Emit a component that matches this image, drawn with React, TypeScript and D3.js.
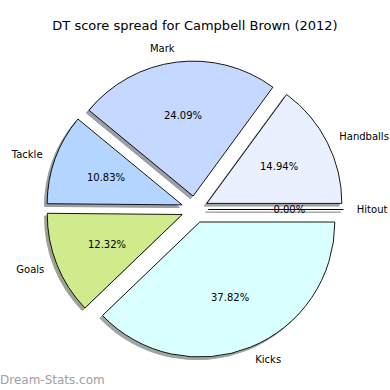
import * as d3 from "d3";

// slices in matplotlib order (counter-clockwise from 3 o'clock)
const categories = ["Handballs", "Mark", "Tackle", "Goals", "Kicks", "Hitout"];
const values = [14.94, 24.09, 10.83, 12.32, 37.82, 0.0];
const colors = ["#ebf0ff", "#c5d8ff", "#b3d5ff", "#cfeb8c", "#d9ffff", "#ffffff"];
const title = "DT score spread for Campbell Brown (2012)";

const W = 390;
const H = 390;
const cx = 194.8;
const cy = 209.5;
const R = 135;
const explode = 0.1;

const shadowColor = (c: string) => {
	const rgb = d3.rgb(c);
	return d3.rgb(rgb.r * 0.3, rgb.g * 0.3, rgb.b * 0.3).toString();
};

export default function App() {
	const data = categories.map((name, i) => ({ name, value: values[i], color: colors[i] }));

	const pie = d3
		.pie<{ name: string; value: number; color: string }>()
		.sort(null)
		.value(d => d.value)
		.startAngle(Math.PI / 2)
		.endAngle(Math.PI / 2 - 2 * Math.PI);

	const arcs = pie(data);

	const arc = d3
		.arc<d3.PieArcDatum<{ name: string; value: number; color: string }>>()
		.innerRadius(0)
		.outerRadius(R);

	const total = d3.sum(values);

	const slices = arcs.map(a => {
		const mid = (a.startAngle + a.endAngle) / 2;
		const ux = Math.sin(mid);
		const uy = -Math.cos(mid);
		const ox = cx + explode * R * ux;
		const oy = cy + explode * R * uy;
		return { a, ux, uy, ox, oy };
	});

	const font = "DejaVu Sans, sans-serif";

	return (
		<svg
			width={W}
			height={H}
			style={{ position: "absolute", left: 0, top: 0, background: "#fff" }}
		>
			<text x={195} y={30} textAnchor="middle" fontFamily={font} fontSize={13} fill="#000">
				{title}
			</text>

			{/* shadows */}
			{slices.map(s => (
				<path
					key={"sh" + s.a.data.name}
					d={arc(s.a) || ""}
					transform={`translate(${s.ox - 0.02 * R}, ${s.oy + 0.02 * R})`}
					fill={shadowColor(s.a.data.color)}
					stroke={shadowColor(s.a.data.color)}
					strokeWidth={1}
					opacity={0.5}
				/>
			))}

			{/* wedges */}
			{slices.map(s => (
				<path
					key={"w" + s.a.data.name}
					d={arc(s.a) || ""}
					transform={`translate(${s.ox}, ${s.oy})`}
					fill={s.a.data.color}
					stroke="#000"
					strokeWidth={0.9}
					strokeLinejoin="round"
				/>
			))}

			{/* labels */}
			{slices.map(s => (
				<text
					key={"l" + s.a.data.name}
					x={s.ox + 1.1 * R * s.ux}
					y={s.oy + 1.1 * R * s.uy}
					dy="0.35em"
					textAnchor={s.ux > 0 ? "start" : "end"}
					fontFamily={font}
					fontSize={10}
					fill="#000"
				>
					{s.a.data.name}
				</text>
			))}

			{/* percentages */}
			{slices.map(s => (
				<text
					key={"p" + s.a.data.name}
					x={s.ox + 0.6 * R * s.ux}
					y={s.oy + 0.6 * R * s.uy}
					dy="0.35em"
					textAnchor="middle"
					fontFamily={font}
					fontSize={10}
					fill="#000"
				>
					{((s.a.data.value / total) * 100).toFixed(2) + "%"}
				</text>
			))}

			<text x={0} y={384} fontFamily={font} fontSize={12} fill="#a0a0a0">
				Dream-Stats.com
			</text>
		</svg>
	);
}
